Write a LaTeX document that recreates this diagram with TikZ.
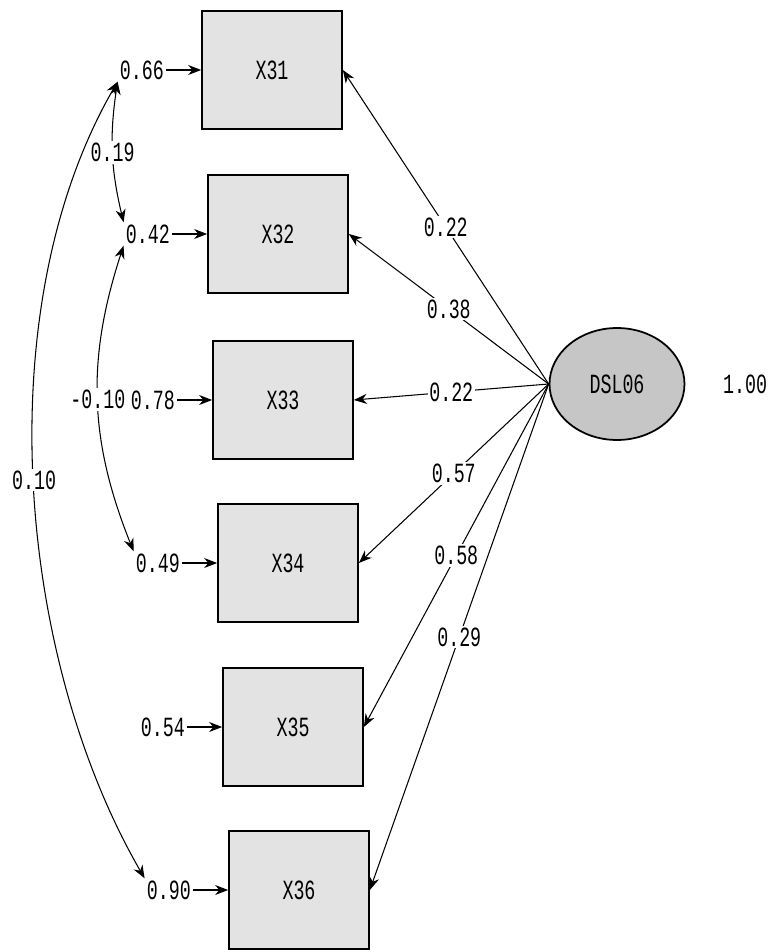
\documentclass[tikz,border=0pt]{standalone}
\usepackage{fontspec}
\newfontfamily\lisfont{Liberation Mono}[FakeStretch=0.66]
\newcommand\lisfnt{\lisfont\fontsize{15.8}{18}\selectfont}
\usetikzlibrary{arrows.meta,positioning,shapes.geometric}

\begin{document}
\begin{tikzpicture}
  [x=0.02cm, y=-0.02cm, line width=0.6pt,
   >={Stealth[length=2.6mm,width=2mm]},
   obs/.style={rectangle, draw, line width=1pt, fill=gray!22, minimum width=28mm, minimum height=23.6mm, font=\lisfnt},
   lat/.style={ellipse, draw, line width=1pt, fill=gray!45, minimum width=27mm, minimum height=22.4mm, font=\lisfnt},
   err/.style={inner sep=1pt, font=\lisfnt},
   coef/.style={fill=white, inner sep=1pt, font=\lisfnt}]
  \useasboundingbox (0,0) rectangle (771,952);

  % observed variables
  \node[obs] (x31) at (272,70) {X31};
  \node[obs] (x32) at (278,234) {X32};
  \node[obs] (x33) at (283,400) {X33};
  \node[obs] (x34) at (288,563) {X34};
  \node[obs] (x35) at (293,727) {X35};
  \node[obs] (x36) at (299,890) {X36};

  % latent variable
  \node[lat] (dsl) at (617,384) {DSL06};
  \node[err] (vdsl) at (745,384) {1.00};

  % error variances
  \node[err, left=7mm of x31] (e31) {0.66};
  \node[err, left=7mm of x32] (e32) {0.42};
  \node[err, left=7mm of x33] (e33) {0.78};
  \node[err, left=7mm of x34] (e34) {0.49};
  \node[err, left=7mm of x35] (e35) {0.54};
  \node[err, left=7mm of x36] (e36) {0.90};
  \draw[->] (e31) -- (x31);
  \draw[->] (e32) -- (x32);
  \draw[->] (e33) -- (x33);
  \draw[->] (e34) -- (x34);
  \draw[->] (e35) -- (x35);
  \draw[->] (e36) -- (x36);

  % loadings
  \draw[->] (dsl.west) -- node[coef]{0.22} (x31.east);
  \draw[->] (dsl.west) -- node[coef]{0.38} (x32.east);
  \draw[->] (dsl.west) -- node[coef]{0.22} (x33.east);
  \draw[->] (dsl.west) -- node[coef]{0.57} (x34.east);
  \draw[->] (dsl.west) -- node[coef]{0.58} (x35.east);
  \draw[->] (dsl.west) -- node[coef]{0.29} (x36.east);

  % error covariances
  \draw[<->] (e31.south west) to[bend right=11] node[coef]{0.19} (e32.north west);
  \draw[<->] (e32.south west) to[bend right=20] node[coef]{-0.10} (e34.north west);
  \draw[<->] (e31.south west) to[out=240, in=120, looseness=0.83] node[coef]{0.10} (e36.north west);
\end{tikzpicture}
\end{document}
